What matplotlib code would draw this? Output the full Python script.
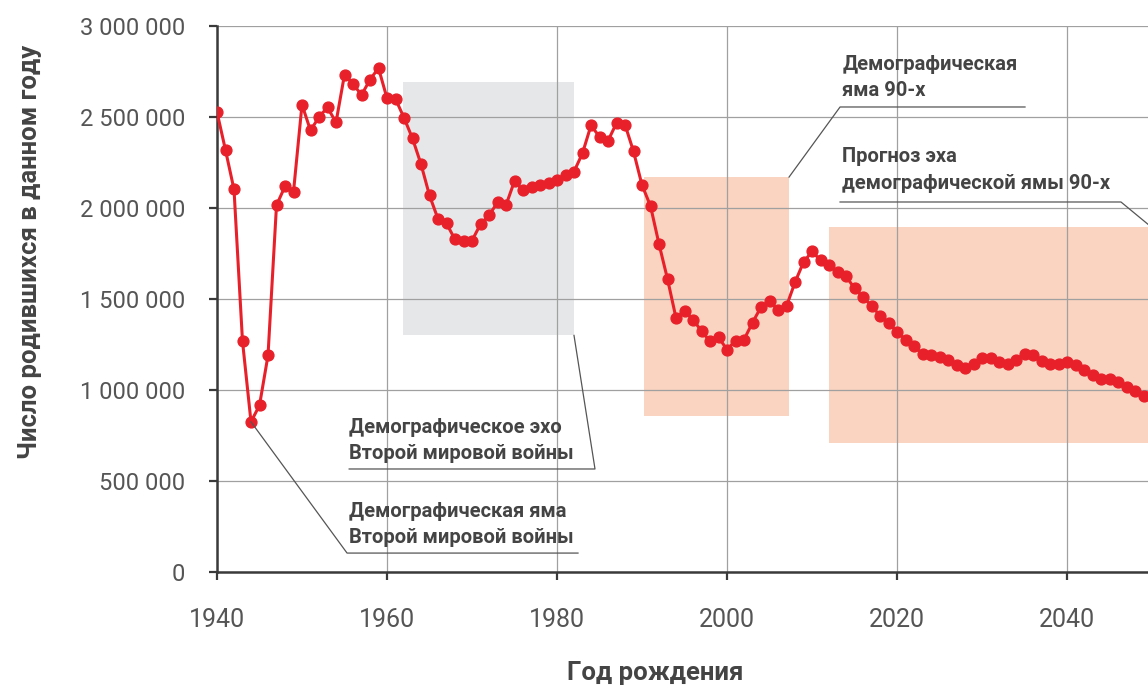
import matplotlib
matplotlib.use("Agg")
import matplotlib.pyplot as plt
import numpy as np
from matplotlib import font_manager
from matplotlib.patches import Rectangle
from matplotlib.ticker import FuncFormatter, MultipleLocator

# pick fonts that exist
names = {f.name for f in font_manager.fontManager.ttflist}
base_font = "Roboto" if "Roboto" in names else "DejaVu Sans"
narrow_font = "Liberation Sans Narrow" if "Liberation Sans Narrow" in names else base_font
plt.rcParams["font.family"] = [base_font, "DejaVu Sans"]

# births per year, 1940-2049
years = np.arange(1940, 2050)
births = [
    2527000, 2318000, 2102000, 1268000, 825000, 916000, 1190000, 2015000, 2119000, 2089000,
    2568000, 2426000, 2500000, 2553000, 2470000, 2733000, 2682000, 2621000, 2705000, 2769000,
    2603000, 2599000, 2496000, 2382000, 2241000, 2069000, 1940000, 1915000, 1827000, 1821000,
    1821000, 1911000, 1959000, 2031000, 2016000, 2148000, 2097000, 2118000, 2126000, 2139000,
    2155000, 2183000, 2200000, 2301000, 2454000, 2391000, 2369000, 2467000, 2458000, 2311000,
    2126000, 2011000, 1802000, 1610000, 1396000, 1436000, 1387000, 1324000, 1268000, 1290000,
    1222000, 1271000, 1277000, 1370000, 1456000, 1489000, 1440000, 1461000, 1592000, 1702000,
    1761000, 1713000, 1685000, 1647000, 1625000, 1559000, 1511000, 1463000, 1408000, 1370000,
    1319000, 1277000, 1240000, 1198000, 1191000, 1181000, 1165000, 1139000, 1119000, 1145000,
    1174000, 1176000, 1152000, 1143000, 1167000, 1196000, 1191000, 1159000, 1145000, 1145000,
    1154000, 1136000, 1108000, 1082000, 1062000, 1062000, 1042000, 1016000, 994000, 969000,
]

# shaded periods: (start year, end year, low, high)
echo_box = (1961.85, 1982.0, 1300000, 2690000)
hole90_box = (1990.2, 2007.3, 857000, 2170000)
forecast_box = (2012.0, 2060.0, 709000, 1896000)

x_ticks = [1940, 1960, 1980, 2000, 2020, 2040]

red = "#e8202a"
text_col = "#444444"
tick_col = "#555555"

fig = plt.figure(figsize=(11.48, 6.86), dpi=100)
ax = fig.add_axes([217 / 1148, 1 - 572 / 686, 1 - 217 / 1148, (572 - 26) / 686])

ax.set_xlim(1940, 1940 + 931 / 8.5)
ax.set_ylim(0, 3000000)

for (x0, x1, y0, y1), c in [(echo_box, "#e6e7e9"), (hole90_box, "#fad3c1"), (forecast_box, "#fad3c1")]:
    ax.add_patch(Rectangle((x0, y0), x1 - x0, y1 - y0, facecolor=c, edgecolor="none", zorder=0.3))

ax.grid(True, color="#a0a0a0", linewidth=0.9, zorder=0.5)
ax.set_axisbelow(True)

ax.plot(years, births, color=red, linewidth=2.2, marker="o", markersize=7.8, zorder=3)

# axes styling
for s in ["top", "right"]:
    ax.spines[s].set_visible(False)
for s in ["left", "bottom"]:
    ax.spines[s].set_color("#3a3a3a")
    ax.spines[s].set_linewidth(1.8)
ax.set_xticks(x_ticks)
ax.yaxis.set_major_locator(MultipleLocator(500000))
ax.yaxis.set_major_formatter(FuncFormatter(lambda v, p: f"{int(v):,}".replace(",", " ")))
ax.tick_params(axis="both", direction="out", length=6, width=1.6, color="#3a3a3a",
               labelcolor=tick_col)
ax.tick_params(axis="y", pad=17, labelsize=17)
ax.tick_params(axis="x", pad=20, labelsize=18)
for lab in ax.get_xticklabels():
    lab.set_fontfamily([narrow_font, "DejaVu Sans"])

fig.text(30 / 1148, 1 - 252 / 686, "Число родившихся в данном году", rotation=90,
         ha="center", va="center", fontsize=18.5, fontweight="bold", color=text_col)
fig.text(655 / 1148, 1 - 673 / 686, "Год рождения", ha="center", va="center",
         fontsize=18.5, fontweight="bold", color=text_col)

# annotations
ann_kw = dict(fontsize=14.5, fontweight="bold", color=text_col, ha="left", va="center",
              linespacing=1.5, zorder=4)
line_kw = dict(color="#555555", linewidth=0.9, zorder=4, clip_on=False)

ax.text(1955.55, 722000, "Демографическое эхо\nВторой мировой войны", **ann_kw)
ax.plot([1955.55, 1984.47, 1982.0], [566000, 566000, 1300000], **line_kw)

ax.text(1955.55, 261000, "Демографическая яма\nВторой мировой войны", **ann_kw)
ax.plot([1944, 1955.3, 1982.47], [825000, 104000, 104000], **line_kw)

ax.text(2013.55, 2717000, "Демографическая\nяма 90-х", **ann_kw)
ax.plot([2007.3, 2013.3, 2035.06], [2170000, 2555000, 2555000], **line_kw)

ax.text(2013.55, 2209000, "Прогноз эха\nдемографической ямы 90-х", **ann_kw)
ax.plot([2013.3, 2046.35, 2051.1], [2033000, 2033000, 1850000], **line_kw)

fig.savefig("out.png", dpi=100)
